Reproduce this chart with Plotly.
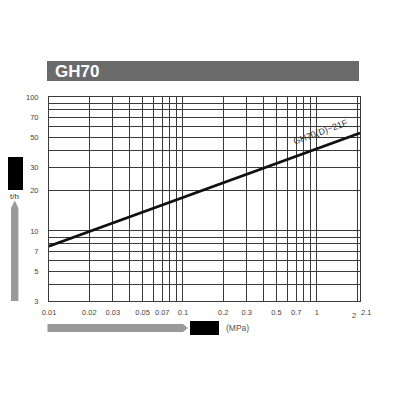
"""
GH70 capacity chart - flow (t/h) vs differential pressure (MPa), log-log.
"""
import numpy as np
import plotly.graph_objects as go

# ── Data ──────────────────────────────────────────────────────────────────────
pressure_mpa = [0.01, 0.02, 0.05, 0.1, 0.2, 0.5, 1.0, 2.1]
flow_th      = [7.7, 9.9, 13.9, 17.8, 22.9, 32.0, 41.1, 53.8]

x_grid   = [0.01, 0.02, 0.03, 0.04, 0.05, 0.06, 0.07, 0.08, 0.09,
            0.1, 0.2, 0.3, 0.4, 0.5, 0.6, 0.7, 0.8, 0.9, 1, 2]
x_labels = ["0.01", "0.02", "0.03", "", "0.05", "", "0.07", "", "",
            "0.1", "0.2", "0.3", "", "0.5", "", "0.7", "", "", "1", ""]
y_grid   = [3, 4, 5, 6, 7, 8, 9, 10, 20, 30, 40, 50, 60, 70, 80, 90, 100]
y_labels = ["3", "", "5", "", "7", "", "", "10", "20", "30", "", "50",
            "", "70", "", "", "100"]

COLORS = {
    "grid":  "#3a3a3a",
    "curve": "#111111",
    "text":  "#444444",
    "bar":   "#6b6b6b",
    "arrow": "#9a9a9a",
    "block": "#000000",
}
FONT = "Liberation Sans, Arial, sans-serif"

# plot area in page pixels: x 49..360, y 97..301 (page body adds an 8px offset)
L, R, T, B = 49, 360, 97, 301
OFF = 8


def px(x):
    return (x - L) / (R - L)


def py(y):
    return (B - y) / (B - T)


def note(x, y, text, size, color, xanchor="center", **kw):
    fig.add_annotation(x=px(x), y=py(y), xref="paper", yref="paper",
                       text=text, showarrow=False,
                       xanchor=xanchor, yanchor="middle",
                       font=dict(size=size, color=color, family=FONT), **kw)


fig = go.Figure()

fig.add_trace(go.Scatter(
    x=pressure_mpa, y=flow_th, mode="lines",
    line=dict(color=COLORS["curve"], width=2.6),
    showlegend=False, hoverinfo="x+y",
))

# curve label, sitting just above the curve
fig.add_annotation(
    x=0.028, y=1.738, xref="x", yref="y",
    text="GH70(D)−21F", showarrow=False, textangle=-20,
    font=dict(size=9, color="#333333", family=FONT),
)

# "2" and "2.1" tick labels sit tight together at the right edge
fig.add_annotation(x=np.log10(2), y=py(315), xref="x", yref="paper",
                   text="2", showarrow=False, xanchor="right", yanchor="middle",
                   xshift=1,
                   font=dict(size=7.5, color=COLORS["text"], family=FONT))
fig.add_annotation(x=np.log10(2.1), y=py(312), xref="x", yref="paper",
                   text="2.1", showarrow=False, xanchor="left", yanchor="middle",
                   xshift=-1,
                   font=dict(size=7.5, color=COLORS["text"], family=FONT))

# ── Title bar ────────────────────────────────────────────────────────────────
fig.add_shape(type="rect", xref="paper", yref="paper",
              x0=px(47), x1=px(359), y0=py(81), y1=py(61),
              fillcolor=COLORS["bar"], line_width=0)
note(53, 71.5, "<b>GH70</b>", 17, "white", xanchor="left")

# ── Y-axis legend block + arrow ─────────────────────────────────────────────
fig.add_shape(type="rect", xref="paper", yref="paper",
              x0=px(6), x1=px(23), y0=py(190), y1=py(157),
              fillcolor=COLORS["block"], line_width=0)
note(14.5, 196.5, "t/h", 8, "#333333")
fig.add_shape(type="path", xref="paper", yref="paper",
              path=(f"M {px(11)},{py(301)} L {px(11)},{py(208)} "
                    f"L {px(14.7)},{py(200.5)} L {px(18.4)},{py(208)} "
                    f"L {px(18.4)},{py(301)} Z"),
              fillcolor=COLORS["arrow"], line_width=0)

# ── X-axis arrow + block ────────────────────────────────────────────────────
fig.add_shape(type="path", xref="paper", yref="paper",
              path=(f"M {px(47.5)},{py(324)} L {px(183)},{py(324)} "
                    f"L {px(188)},{py(328)} L {px(183)},{py(332)} "
                    f"L {px(47.5)},{py(332)} Z"),
              fillcolor=COLORS["arrow"], line_width=0)
fig.add_shape(type="rect", xref="paper", yref="paper",
              x0=px(190), x1=px(219), y0=py(335), y1=py(321),
              fillcolor=COLORS["block"], line_width=0)
note(224, 328, "(MPa)", 8.5, "#555555", xanchor="left")

# ── Layout ───────────────────────────────────────────────────────────────────
fig.update_layout(
    width=400, height=400,
    margin=dict(l=L - OFF, r=400 - (R - OFF), t=T - OFF, b=400 - (B - OFF)),
    paper_bgcolor="white", plot_bgcolor="white",
    font=dict(family=FONT, size=7.5, color=COLORS["text"]),
    showlegend=False,
)
fig.update_xaxes(
    type="log", range=[-2, np.log10(2.1)],
    tickvals=x_grid, ticktext=x_labels, ticks="",
    ticklabelstandoff=4,
    showgrid=True, gridcolor=COLORS["grid"], gridwidth=1,
    showline=True, linecolor=COLORS["grid"], linewidth=1, mirror=True,
    zeroline=False, fixedrange=True,
)
fig.update_yaxes(
    type="log", range=[np.log10(3), 2],
    tickvals=y_grid, ticktext=y_labels, ticks="",
    ticklabelstandoff=8,
    showgrid=True, gridcolor=COLORS["grid"], gridwidth=1,
    showline=True, linecolor=COLORS["grid"], linewidth=1, mirror=True,
    zeroline=False, fixedrange=True,
)

fig.write_html("out.html")
